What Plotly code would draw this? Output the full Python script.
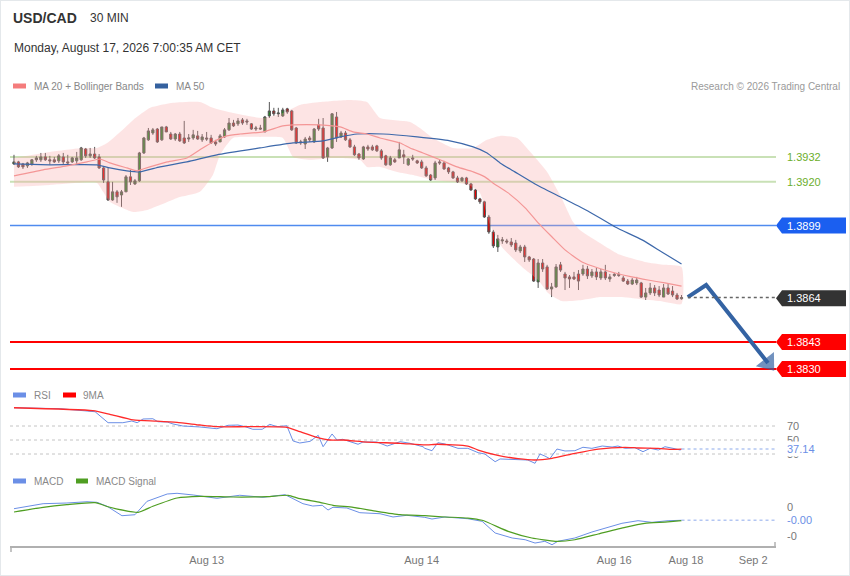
import plotly.graph_objects as go

W, H = 850, 576
FONT = "Liberation Sans, Arial, sans-serif"

# USD/CAD 30 min bars, bar 0 = first bar on screen
opens = [
    1.39286, 1.39296, 1.39286, 1.39277, 1.39286, 1.39306, 1.39306, 1.39320, 1.39306, 1.39306,
    1.39301, 1.39320, 1.39296, 1.39296, 1.39301, 1.39306, 1.39358, 1.39325, 1.39334, 1.39320,
    1.39267, 1.39200, 1.39113, 1.39152, 1.39137, 1.39152, 1.39224, 1.39190, 1.39205, 1.39339,
    1.39402, 1.39435, 1.39454, 1.39402, 1.39464, 1.39430, 1.39406, 1.39430, 1.39411, 1.39406,
    1.39411, 1.39421, 1.39402, 1.39411, 1.39411, 1.39392, 1.39392, 1.39416, 1.39450, 1.39483,
    1.39479, 1.39498, 1.39493, 1.39479, 1.39454, 1.39459, 1.39440, 1.39517, 1.39541, 1.39527,
    1.39517, 1.39551, 1.39541, 1.39459, 1.39387, 1.39382, 1.39411, 1.39392, 1.39474, 1.39459,
    1.39320, 1.39363, 1.39512, 1.39416, 1.39435, 1.39402, 1.39368, 1.39334, 1.39310, 1.39368,
    1.39368, 1.39373, 1.39349, 1.39325, 1.39282, 1.39306, 1.39315, 1.39330, 1.39282, 1.39315,
    1.39301, 1.39296, 1.39267, 1.39233, 1.39219, 1.39296, 1.39291, 1.39267, 1.39248, 1.39219,
    1.39205, 1.39219, 1.39190, 1.39161, 1.39118, 1.39104, 1.39031, 1.38959, 1.38887, 1.38916,
    1.38916, 1.38911, 1.38906, 1.38868, 1.38887, 1.38839, 1.38829, 1.38719, 1.38810, 1.38791,
    1.38685, 1.38695, 1.38801, 1.38757, 1.38743, 1.38743, 1.38757, 1.38757, 1.38781, 1.38748,
    1.38767, 1.38738, 1.38767, 1.38733, 1.38750, 1.38755, 1.38738, 1.38723, 1.38709, 1.38714,
    1.38714, 1.38646, 1.38666, 1.38690, 1.38680, 1.38646, 1.38690, 1.38675, 1.38656, 1.38638,
]
highs = [
    1.39330, 1.39301, 1.39291, 1.39296, 1.39310, 1.39325, 1.39339, 1.39339, 1.39325, 1.39320,
    1.39334, 1.39339, 1.39330, 1.39320, 1.39344, 1.39368, 1.39363, 1.39363, 1.39368, 1.39334,
    1.39272, 1.39267, 1.39200, 1.39161, 1.39161, 1.39233, 1.39258, 1.39214, 1.39344, 1.39416,
    1.39459, 1.39459, 1.39459, 1.39464, 1.39469, 1.39440, 1.39435, 1.39440, 1.39493, 1.39430,
    1.39450, 1.39445, 1.39430, 1.39440, 1.39426, 1.39402, 1.39430, 1.39459, 1.39507, 1.39498,
    1.39507, 1.39507, 1.39503, 1.39483, 1.39469, 1.39474, 1.39517, 1.39584, 1.39556, 1.39556,
    1.39556, 1.39556, 1.39546, 1.39464, 1.39402, 1.39416, 1.39421, 1.39459, 1.39503, 1.39507,
    1.39368, 1.39531, 1.39536, 1.39445, 1.39445, 1.39411, 1.39378, 1.39339, 1.39373, 1.39378,
    1.39378, 1.39378, 1.39358, 1.39330, 1.39325, 1.39315, 1.39392, 1.39354, 1.39315, 1.39330,
    1.39306, 1.39306, 1.39277, 1.39238, 1.39301, 1.39306, 1.39301, 1.39272, 1.39253, 1.39229,
    1.39224, 1.39224, 1.39195, 1.39166, 1.39123, 1.39109, 1.39041, 1.38969, 1.38945, 1.38935,
    1.38926, 1.38930, 1.38921, 1.38897, 1.38897, 1.38844, 1.38834, 1.38829, 1.38829, 1.38801,
    1.38714, 1.38805, 1.38815, 1.38767, 1.38752, 1.38767, 1.38776, 1.38801, 1.38796, 1.38781,
    1.38786, 1.38781, 1.38801, 1.38757, 1.38762, 1.38767, 1.38748, 1.38733, 1.38738, 1.38743,
    1.38719, 1.38690, 1.38714, 1.38704, 1.38699, 1.38709, 1.38709, 1.38699, 1.38666, 1.38656,
]
lows = [
    1.39282, 1.39267, 1.39262, 1.39267, 1.39277, 1.39296, 1.39296, 1.39301, 1.39282, 1.39291,
    1.39291, 1.39282, 1.39282, 1.39291, 1.39282, 1.39301, 1.39315, 1.39315, 1.39310, 1.39262,
    1.39195, 1.39109, 1.39109, 1.39099, 1.39080, 1.39152, 1.39185, 1.39185, 1.39200, 1.39334,
    1.39397, 1.39426, 1.39387, 1.39397, 1.39440, 1.39402, 1.39397, 1.39392, 1.39382, 1.39392,
    1.39402, 1.39402, 1.39392, 1.39397, 1.39382, 1.39373, 1.39392, 1.39411, 1.39445, 1.39464,
    1.39469, 1.39474, 1.39474, 1.39450, 1.39445, 1.39450, 1.39440, 1.39507, 1.39517, 1.39512,
    1.39512, 1.39527, 1.39445, 1.39382, 1.39378, 1.39358, 1.39392, 1.39387, 1.39445, 1.39310,
    1.39296, 1.39358, 1.39392, 1.39411, 1.39397, 1.39363, 1.39325, 1.39306, 1.39306, 1.39349,
    1.39349, 1.39344, 1.39306, 1.39277, 1.39277, 1.39291, 1.39315, 1.39286, 1.39277, 1.39301,
    1.39286, 1.39262, 1.39224, 1.39205, 1.39209, 1.39282, 1.39258, 1.39238, 1.39214, 1.39195,
    1.39200, 1.39185, 1.39157, 1.39113, 1.39094, 1.39027, 1.38950, 1.38882, 1.38863, 1.38902,
    1.38902, 1.38887, 1.38863, 1.38858, 1.38815, 1.38815, 1.38719, 1.38690, 1.38767, 1.38680,
    1.38646, 1.38690, 1.38767, 1.38680, 1.38690, 1.38728, 1.38680, 1.38748, 1.38733, 1.38738,
    1.38728, 1.38728, 1.38728, 1.38719, 1.38743, 1.38743, 1.38719, 1.38704, 1.38704, 1.38704,
    1.38642, 1.38632, 1.38656, 1.38651, 1.38646, 1.38646, 1.38656, 1.38646, 1.38632, 1.38634,
]
closes = [
    1.39296, 1.39272, 1.39272, 1.39291, 1.39306, 1.39315, 1.39320, 1.39306, 1.39301, 1.39296,
    1.39325, 1.39296, 1.39291, 1.39315, 1.39315, 1.39363, 1.39325, 1.39334, 1.39315, 1.39267,
    1.39209, 1.39113, 1.39152, 1.39128, 1.39152, 1.39224, 1.39200, 1.39205, 1.39339, 1.39411,
    1.39445, 1.39450, 1.39392, 1.39464, 1.39440, 1.39406, 1.39430, 1.39397, 1.39387, 1.39411,
    1.39426, 1.39406, 1.39416, 1.39406, 1.39387, 1.39382, 1.39421, 1.39450, 1.39483, 1.39469,
    1.39493, 1.39483, 1.39488, 1.39454, 1.39459, 1.39454, 1.39512, 1.39541, 1.39527, 1.39531,
    1.39546, 1.39536, 1.39450, 1.39387, 1.39392, 1.39406, 1.39402, 1.39454, 1.39454, 1.39315,
    1.39363, 1.39527, 1.39411, 1.39435, 1.39402, 1.39368, 1.39330, 1.39315, 1.39368, 1.39358,
    1.39354, 1.39349, 1.39315, 1.39282, 1.39315, 1.39296, 1.39354, 1.39320, 1.39310, 1.39310,
    1.39291, 1.39267, 1.39229, 1.39209, 1.39291, 1.39291, 1.39262, 1.39248, 1.39219, 1.39200,
    1.39219, 1.39190, 1.39161, 1.39118, 1.39104, 1.39031, 1.38959, 1.38892, 1.38926, 1.38921,
    1.38911, 1.38897, 1.38873, 1.38887, 1.38839, 1.38825, 1.38723, 1.38810, 1.38781, 1.38685,
    1.38695, 1.38791, 1.38776, 1.38738, 1.38733, 1.38733, 1.38723, 1.38781, 1.38748, 1.38767,
    1.38743, 1.38767, 1.38738, 1.38743, 1.38755, 1.38750, 1.38723, 1.38709, 1.38728, 1.38728,
    1.38646, 1.38666, 1.38690, 1.38666, 1.38656, 1.38690, 1.38661, 1.38656, 1.38637, 1.38644,
]

# overlays, x = bar number
ma20_x = [0, 6.5, 11.8, 16.3, 19.2, 21.4, 25.2, 27.5, 28.8, 34.2, 38.6, 41.5, 44.4, 47.5, 50.4,
          55.6, 60, 62.3, 68.3, 72.8, 75.7, 78.8, 81.7, 86.2, 88.4, 91.3, 95.1, 98.9, 102.5, 105.1,
          106.9, 110.3, 114.1, 117, 120.1, 123, 126.8, 130.4, 134.2, 137.9, 141.5, 145.3, 149]
ma20_y = [1.39229, 1.39258, 1.39277, 1.39296, 1.39310, 1.39291, 1.39267, 1.39253, 1.39262, 1.39296,
          1.39315, 1.39354, 1.39392, 1.39421, 1.39430, 1.39440, 1.39469, 1.39474, 1.39474, 1.39464,
          1.39440, 1.39430, 1.39411, 1.39387, 1.39363, 1.39339, 1.39306, 1.39272, 1.39248, 1.39224,
          1.39195, 1.39147, 1.39075, 1.39003, 1.38935, 1.38873, 1.38815, 1.38786, 1.38762, 1.38743,
          1.38728, 1.38714, 1.38699]

ma50_x = [0, 8, 18.5, 21.4, 25.2, 28.1, 32.6, 38.6, 45.3, 54.9, 62.3, 69, 72.8, 76.6, 82.4, 90,
          97.3, 102.5, 105.6, 108.5, 111.8, 116.3, 121.9, 128.1, 134.2, 140.2, 144.6, 149]
ma50_y = [1.39286, 1.39282, 1.39282, 1.39267, 1.39253, 1.39248, 1.39272, 1.39296, 1.39330, 1.39363,
          1.39387, 1.39397, 1.39416, 1.39430, 1.39430, 1.39416, 1.39397, 1.39368, 1.39339, 1.39291,
          1.39248, 1.39190, 1.39128, 1.39060, 1.38983, 1.38921, 1.38863, 1.38805]

bb_up_x = [0, 8, 15.4, 18.5, 20.8, 23.7, 26.6, 30.4, 35.5, 41.5, 44.4, 48.9, 55.6, 60, 63.8, 68.3,
           75, 78.8, 81.7, 88.4, 90.6, 93.5, 98, 102.5, 105.6, 108.5, 112.3, 115.8, 119, 121.9,
           124.8, 126.3, 129.7, 135.3, 140.8, 145.3, 149]
bb_up_y = [1.39315, 1.39344, 1.39363, 1.39363, 1.39387, 1.39440, 1.39498, 1.39556, 1.39580, 1.39584,
           1.39556, 1.39531, 1.39507, 1.39531, 1.39570, 1.39584, 1.39594, 1.39584, 1.39507, 1.39488,
           1.39459, 1.39411, 1.39363, 1.39363, 1.39402, 1.39421, 1.39411, 1.39330, 1.39248, 1.39137,
           1.39007, 1.38969, 1.38921, 1.38849, 1.38815, 1.38801, 1.38791]
bb_lo_x = [0, 8, 18.5, 19.9, 21.4, 26.6, 29.7, 32.6, 36.4, 41.5, 44.4, 46, 48.9, 54.9, 60, 62.3,
           66.1, 71.2, 77.2, 78.8, 81.7, 85.5, 89.1, 93.5, 98, 101.8, 104, 106.3, 108.9, 113.4,
           117, 119.2, 122.3, 126.8, 130.8, 135.3, 139.7, 144.2, 149]
bb_lo_y = [1.39176, 1.39185, 1.39195, 1.39152, 1.39104, 1.39055, 1.39065, 1.39089, 1.39123, 1.39152,
           1.39233, 1.39330, 1.39411, 1.39416, 1.39411, 1.39320, 1.39306, 1.39315, 1.39306, 1.39272,
           1.39272, 1.39248, 1.39233, 1.39209, 1.39200, 1.39181, 1.39147, 1.38993, 1.38887, 1.38791,
           1.38728, 1.38666, 1.38627, 1.38632, 1.38646, 1.38646, 1.38637, 1.38627, 1.38613]

rsi_x = [0, 10.3, 15.4, 18.1, 21, 24.3, 26.3, 27.5, 28.8, 31, 32.1, 34.2, 35.5, 37.7, 41.5, 45.3,
         47.8, 50, 51.6, 53.3, 55.4, 57.1, 58.7, 60.9, 62.3, 63.8, 66.1, 67.9, 69, 71, 72.1, 73.4,
         76.8, 77.9, 81, 83.3, 86.2, 88.4, 91.3, 91.7, 93.3, 94.6, 96.2, 99.1, 101.3, 103.6, 105.1,
         107.4, 108.5, 112.5, 114.7, 116.3, 117.4, 118.5, 119.6, 121.2, 123, 125.2, 127, 129, 131.3,
         133.5, 134.8, 136.4, 138.6, 140.4, 142, 143.8, 145.3, 147.1, 148.7, 149]
rsi = [96.1, 94.7, 91.9, 90.4, 74.7, 74.7, 77.1, 74.7, 80, 80.4, 76.1, 75.7, 72.9, 70, 68.6, 66.1,
       71, 71.4, 69, 65.3, 65.3, 72.4, 69, 70.4, 48.6, 45.7, 48.1, 56.7, 40.4, 58.6, 50, 51,
       43.9, 47.1, 47.1, 41.4, 47.6, 45.3, 40.4, 38.1, 34.7, 46.1, 44.3, 38.1, 38.1, 31.9, 30,
       19, 22.9, 22.4, 21.4, 16.7, 30, 27.1, 23.3, 37.1, 34.3, 34.7, 39.6, 38.1, 41.4,
       40, 41.4, 38.1, 39, 33.3, 38.1, 35.7, 40.4, 38.1, 35.7, 37.14]
rsi_ma_x = [0, 17.6, 21.4, 26.6, 31.9, 36.4, 41.5, 45.3, 52.7, 60.9, 63.8, 67.6, 70.5, 73.4, 78.8,
            86.2, 91.7, 94.6, 101.3, 103.6, 108, 112.5, 116.3, 120.1, 125.2, 130.4, 136.4, 139.3,
            143.8, 146.9, 149]
rsi_ma = [96.1, 91.9, 86.7, 78.6, 77.1, 75.3, 71.4, 69, 69, 68.1, 61.9, 53.9, 50, 50, 47.1,
          45.3, 42.9, 43.9, 41.4, 35.7, 28.1, 23.3, 21.4, 23.9, 31, 37.1, 39.6, 38.6,
          38.1, 36.7, 37.1]

macd_x = [0, 6.5, 11.8, 16.3, 18.5, 20.8, 24.1, 27, 29.7, 31.9, 34.2, 36.4, 40, 45.3, 50.4, 55.6,
          60.5, 62.3, 64.5, 66.7, 68.8, 70.1, 71.2, 74.3, 77.2, 81.7, 84.6, 87.7, 91.7, 93.3, 96.2,
          101.3, 104.5, 107.4, 111.2, 114.1, 116.3, 118.5, 120.1, 121.4, 125.2, 129, 131.9, 135.7,
          139.3, 142.4, 146, 149]
macd = [-0.000029, 0.000057, 0.000069, 0.000091, 0.000081, 0.000012, -0.00015, -0.000133,
        0.000098, 0.000155, 0.000224, 0.000236, 0.000207, 0.00015, 0.000202, 0.000167,
        0.000212, 0.000143, 0.000057, 0.000017, 0.000029, -0.000052, -0.000005, -0.000017,
        -0.000098, -0.000116, -0.000172, -0.000143, -0.000178, -0.000207, -0.000172,
        -0.000202, -0.000247, -0.000448, -0.000534, -0.000564, -0.000621, -0.000591, -0.00065,
        -0.000591, -0.000534, -0.000431, -0.000362, -0.000281, -0.000236, -0.000264,
        -0.000236, -0.000229]
signal_x = [0, 6.5, 11.8, 18.1, 21.4, 27.7, 31, 36.4, 41.5, 48.9, 56.5, 61.2, 63.8, 68.3, 71.2,
            75.7, 81, 86.2, 91.7, 96.2, 101.3, 104.5, 110.3, 115.6, 120.8, 125.2, 130.4, 136.4,
            140.8, 145.3, 149]
signal = [-0.000086, -0.000005, 0.00004, 0.000074, -0.000005, -0.000091, 0.000012, 0.000155,
          0.000184, 0.000172, 0.000178, 0.000202, 0.000143, 0.000081, 0.000029, -0.000005,
          -0.000074, -0.000133, -0.00015, -0.000172, -0.00019, -0.000229, -0.000419, -0.000534,
          -0.000591, -0.000564, -0.000465, -0.00035, -0.000281, -0.000259, -0.000236]

resistance = [1.3932, 1.3920]
pivot = 1.3899
supports = [1.3843, 1.3830]

# expected path drawn after the last bar
forecast_x = [150.4, 154.5, 168.3]
forecast_y = [1.38646, 1.38704, 1.38329]

date_ticks = [43, 91, 134, 150, 165]
date_labels = ["Aug 13", "Aug 14", "Aug 16", "Aug 18", "Sep 2"]
rsi_levels = [70, 50, 30]
macd_ticks = [0.0, -0.0005]


def px(x):
    return x / W


def py(y):
    return 1 - y / H


X_RANGE = [-0.89, 170.09]
PRICE_TOP, PRICE_BOT = 97, 378
PRICE_RANGE = [1.38257, 1.39608]
RSI_RANGE = [10, 102.86]
MACD_RANGE = [-0.000672, 0.000293]
per_px = (PRICE_RANGE[1] - PRICE_RANGE[0]) / (PRICE_BOT - PRICE_TOP)

BLUE_IND = "#6b8fe6"

fig = go.Figure()

# bollinger band + moving averages
fig.add_trace(go.Scatter(x=bb_up_x + bb_lo_x[::-1], y=bb_up_y + bb_lo_y[::-1],
                         fill="toself", fillcolor="rgba(250,165,165,0.30)",
                         line=dict(width=0, shape="spline", smoothing=0.5), hoverinfo="skip"))
fig.add_trace(go.Scatter(x=ma50_x, y=ma50_y, mode="lines",
                         line=dict(color="#3d68aa", width=1.2, shape="spline", smoothing=0.5)))
fig.add_trace(go.Scatter(x=ma20_x, y=ma20_y, mode="lines",
                         line=dict(color="#f49696", width=1.2, shape="spline", smoothing=0.5)))

bars = list(range(len(closes)))
fig.add_trace(go.Candlestick(x=bars, open=opens, high=highs, low=lows, close=closes,
                             increasing=dict(line=dict(color="#555555", width=1), fillcolor="#1f8a1f"),
                             decreasing=dict(line=dict(color="#555555", width=1), fillcolor="#e80000"),
                             whiskerwidth=0))

fig.add_trace(go.Scatter(x=forecast_x, y=forecast_y, mode="lines+markers", cliponaxis=False,
                         line=dict(color="#3463a3", width=4),
                         marker=dict(symbol="triangle-up", size=[0, 0, 20], angleref="previous",
                                     color="#3463a3", line=dict(width=0))))

# RSI pane
fig.add_trace(go.Scatter(x=rsi_x, y=rsi, mode="lines", yaxis="y2",
                         line=dict(color=BLUE_IND, width=1)))
fig.add_trace(go.Scatter(x=rsi_ma_x, y=rsi_ma, mode="lines", yaxis="y2",
                         line=dict(color="#ff2a2a", width=1.3, shape="spline", smoothing=0.5)))

# MACD pane
fig.add_trace(go.Scatter(x=macd_x, y=macd, mode="lines", yaxis="y3",
                         line=dict(color=BLUE_IND, width=1)))
fig.add_trace(go.Scatter(x=signal_x, y=signal, mode="lines", yaxis="y3",
                         line=dict(color="#4f9e22", width=1.2, shape="spline", smoothing=0.5)))

shapes = []
annotations = []


def text(s, x, y, size=10, color="#888888", anchor="left", yref="paper", **kw):
    annotations.append(dict(text=s, x=x, y=y, xref="paper", yref=yref, xanchor=anchor,
                            yanchor="middle", showarrow=False,
                            font=dict(family=FONT, size=size, color=color), **kw))


def hline(level, color, width, yref="y", dash=None, x0=px(10), x1=px(776), layer="below"):
    shapes.append(dict(type="line", xref="paper", yref=yref, x0=x0, x1=x1, y0=level, y1=level,
                       line=dict(color=color, width=width, dash=dash), layer=layer))


def tag(level, color):
    h = 8 * per_px
    a, b, c = px(776), px(782), px(846)
    shapes.append(dict(type="path", xref="paper", yref="y", fillcolor=color, line=dict(width=0),
                       path=f"M {a},{level} L {b},{level + h} L {c},{level + h} "
                            f"L {c},{level - h} L {b},{level - h} Z"))
    text(f"{level:.4f}", px(785), level, size=11, color="white", yref="y")


for lv in resistance:
    hline(lv, "#c9e1b6", 2)
    text(f"{lv:.4f}", px(785), lv, size=11, color="#6cae2c", yref="y")
hline(pivot, "#4f8bef", 1.5)
tag(pivot, "#1b5ff0")
for lv in supports:
    hline(lv, "#ff0000", 2)
    tag(lv, "#ff0000")

last = closes[-1]
shapes.append(dict(type="line", xref="x", yref="y", x0=forecast_x[0], x1=X_RANGE[1], y0=last, y1=last,
                   line=dict(color="#666666", width=1.5, dash="dot")))
tag(round(last, 4), "#333333")

# RSI guides and labels
for lv in rsi_levels:
    hline(lv, "#c4c4c4", 1, yref="y2", dash="dot")
    text(str(lv), px(785), lv, size=11, color="#777777", yref="y2")
shapes.append(dict(type="line", xref="x", yref="y2", x0=rsi_x[-1], x1=X_RANGE[1], y0=rsi[-1], y1=rsi[-1],
                   line=dict(color="#b3c6f2", width=1.5, dash="dot")))
text(f"{rsi[-1]:.2f}", px(785), rsi[-1], size=11, color=BLUE_IND, yref="y2", bgcolor="white")

# MACD labels
for v in macd_ticks:
    text(f"{v:.0f}", px(785), v, size=11, color="#777777", yref="y3")
shapes.append(dict(type="line", xref="x", yref="y3", x0=macd_x[-1], x1=X_RANGE[1], y0=macd[-1], y1=macd[-1],
                   line=dict(color="#b3c6f2", width=1.5, dash="dot")))
text(f"{macd[-1]:.2f}", px(785), macd[-1], size=11, color=BLUE_IND, yref="y3", bgcolor="white")

# header
text("<b>USD/CAD</b>", px(11), py(18), size=14, color="#333333")
text("30 MIN", px(88), py(18), size=12, color="#333333")
text("Monday, August 17, 2026 7:00:35 AM CET", px(12), py(48), size=12, color="#333333")
text("Research © 2026 Trading Central", px(842), py(86), size=10, color="#9a9a9a", anchor="right")


def swatch(x0, x1, y, color):
    shapes.append(dict(type="rect", xref="paper", yref="paper", x0=px(x0), x1=px(x1),
                       y0=py(y + 2.5), y1=py(y - 2.5), fillcolor=color, line=dict(width=0)))


swatch(13, 26, 86, "#f47c7c")
text("MA 20 + Bollinger Bands", px(32), py(86))
swatch(155, 168, 86, "#35619f")
text("MA 50", px(174), py(86))
swatch(13, 26, 395, BLUE_IND)
text("RSI", px(32), py(395))
swatch(63, 76, 395, "#ff0000")
text("9MA", px(81), py(395))
swatch(13, 26, 481, BLUE_IND)
text("MACD", px(32), py(481))
swatch(76, 88, 481, "#4f9e22")
text("MACD Signal", px(94), py(481))

# axis end marks and outer frame
shapes.append(dict(type="line", xref="paper", yref="paper", x0=px(11), x1=px(11), y0=py(547), y1=py(552),
                   line=dict(color="#b0b0b0", width=1.5)))
shapes.append(dict(type="line", xref="paper", yref="paper", x0=px(775), x1=px(775), y0=py(542), y1=py(547),
                   line=dict(color="#b0b0b0", width=1.5)))
shapes.append(dict(type="rect", xref="paper", yref="paper", x0=0, x1=1, y0=0, y1=1,
                   line=dict(color="#e4e8eb", width=2)))

hidden = dict(showgrid=False, zeroline=False, showticklabels=False, showline=False,
              fixedrange=True, anchor="x")
fig.update_layout(
    width=W, height=H,
    margin=dict(l=0, r=0, t=0, b=0),
    paper_bgcolor="white", plot_bgcolor="white",
    showlegend=False,
    font=dict(family=FONT, color="#777777"),
    xaxis=dict(domain=[px(10), px(776)], range=X_RANGE, anchor="free", position=py(547),
               showline=True, linecolor="#b0b0b0", linewidth=2, showgrid=False, zeroline=False,
               tickvals=date_ticks, ticktext=date_labels, ticks="outside", ticklen=3,
               tickcolor="rgba(0,0,0,0)", tickfont=dict(size=11, color="#777777"),
               rangeslider=dict(visible=False), fixedrange=True),
    yaxis=dict(domain=[py(PRICE_BOT), py(PRICE_TOP)], range=PRICE_RANGE, **hidden),
    yaxis2=dict(domain=[py(468), py(403)], range=RSI_RANGE, **hidden),
    yaxis3=dict(domain=[py(546), py(490)], range=MACD_RANGE, **hidden),
    shapes=shapes,
    annotations=annotations,
)

# the page body has a default margin; remove it so the figure fills the window
fig.write_html("out.html", config={"displayModeBar": False},
               post_script="document.body.style.margin='0';")
